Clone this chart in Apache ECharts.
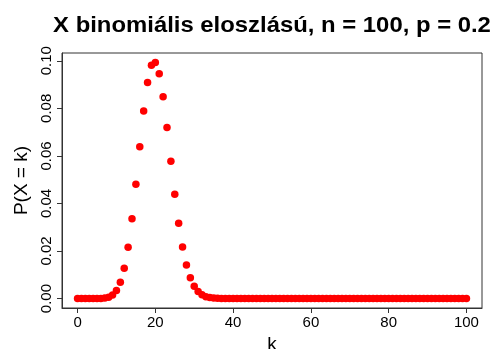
<!DOCTYPE html>
<html>
<head>
<meta charset="utf-8">
<script src="https://cdn.jsdelivr.net/npm/echarts@6/dist/echarts.min.js"></script>
<style>
  html, body { margin: 0; padding: 0; background: #fff; }
  #chart { width: 497px; height: 349px; }
</style>
</head>
<body>
<div id="chart"></div>
<script>
// Binomial distribution, n = 100, p = 0.2: P(X = k) for k = 0..100
const kValues = Array.from({ length: 101 }, (_, i) => i);
const probValues = [
  2.037e-10, 5.093e-9, 6.302e-8, 5.147e-7, 3.120e-6, 1.498e-5, 5.928e-5, 1.990e-4, 5.784e-4, 1.478e-3,
  0.0033628, 0.0068785, 0.0127539, 0.0215835, 0.0335315, 0.0480618, 0.0638321, 0.0788514, 0.0908980, 0.0980742,
  0.0993002, 0.0945716, 0.0848995, 0.0719800, 0.0577340, 0.0438778, 0.0316427, 0.0216811, 0.0141314, 0.0087712,
  0.0051896, 0.0029296, 0.0015793, 8.136e-4, 4.008e-4, 1.889e-4, 8.529e-5, 3.688e-5, 1.529e-5, 6.075e-6,
  2.316e-6, 8.474e-7, 2.976e-7, 1.004e-7, 3.25e-8, 1.01e-8, 0, 0, 0, 0,
  0, 0, 0, 0, 0, 0, 0, 0, 0, 0,
  0, 0, 0, 0, 0, 0, 0, 0, 0, 0,
  0, 0, 0, 0, 0, 0, 0, 0, 0, 0,
  0, 0, 0, 0, 0, 0, 0, 0, 0, 0,
  0, 0, 0, 0, 0, 0, 0, 0, 0, 0,
  0
];
const xTicks = [0, 20, 40, 60, 80, 100];
const yTicks = [0, 0.02, 0.04, 0.06, 0.08, 0.10];

const titleText = 'X binomiális eloszlású, n = 100, p = 0.2';
const xTitle = 'k';
const yTitle = 'P(X = k)';

const FONT = '"Liberation Sans", Arial, Helvetica, sans-serif';

const chart = echarts.init(document.getElementById('chart'), null, { renderer: 'canvas' });

chart.setOption({
  animation: false,
  backgroundColor: '#ffffff',
  textStyle: { fontFamily: FONT },
  grid: {
    left: 62, right: 15, top: 53, bottom: 41,
    outerBoundsMode: 'none',
    containLabel: false,
    show: true, borderColor: '#333', borderWidth: 1, backgroundColor: 'transparent'
  },
  graphic: [{
    type: 'text',
    x: 272, y: 26,
    scaleX: 1.085,
    style: {
      text: titleText,
      font: 'bold 22px ' + FONT,
      fill: '#000',
      align: 'center',
      verticalAlign: 'middle'
    }
  }],
  xAxis: {
    type: 'value',
    min: -4, max: 104,
    name: xTitle,
    nameLocation: 'middle',
    nameGap: 23,
    nameTextStyle: { fontSize: 19, color: '#000', fontFamily: FONT },
    axisLine: { show: true, onZero: false, lineStyle: { color: '#333', width: 1 } },
    splitLine: { show: false },
    axisTick: {
      show: true, inside: false, length: 5,
      customValues: xTicks,
      lineStyle: { color: '#333', width: 1 }
    },
    axisLabel: {
      show: true, customValues: xTicks,
      fontSize: 15, color: '#000', margin: 7, fontFamily: FONT
    }
  },
  yAxis: {
    type: 'value',
    min: -0.00397, max: 0.10327,
    name: yTitle,
    nameLocation: 'middle',
    nameGap: 31,
    nameRotate: 90,
    nameTextStyle: { fontSize: 19, color: '#000', fontFamily: FONT },
    axisLine: { show: true, onZero: false, lineStyle: { color: '#333', width: 1 } },
    splitLine: { show: false },
    axisTick: {
      show: true, inside: false, length: 5,
      customValues: yTicks,
      lineStyle: { color: '#333', width: 1 }
    },
    axisLabel: {
      show: true, customValues: yTicks, rotate: 90,
      fontSize: 15, color: '#000', margin: 8, fontFamily: FONT,
      formatter: v => v.toFixed(2)
    }
  },
  series: [{
    type: 'scatter',
    data: kValues.map((k, i) => [k, probValues[i]]),
    symbol: 'circle',
    symbolSize: 7.5,
    itemStyle: { color: '#ff0000', opacity: 1 },
    emphasis: { disabled: true },
    silent: true
  }]
});
</script>
</body>
</html>
